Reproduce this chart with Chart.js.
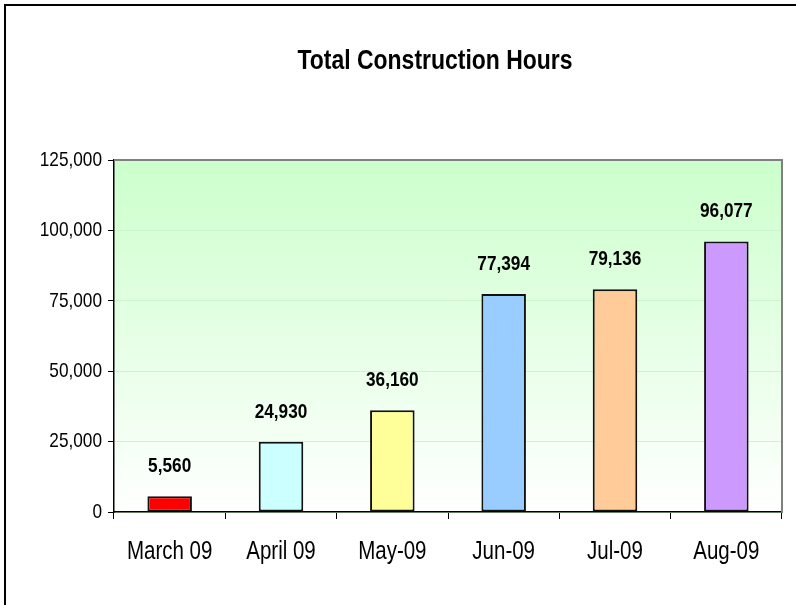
<!DOCTYPE html>
<html>
<head>
<meta charset="utf-8">
<script src="https://cdn.jsdelivr.net/npm/chart.js@4.4.1/dist/chart.umd.min.js"></script>
<style>
  html, body { margin: 0; padding: 0; background: #fff; }
  #wrap { position: relative; width: 796px; height: 605px; overflow: hidden; }
  #frame { position: absolute; left: 4px; top: 4px; width: 900px; height: 700px; border-left: 2px solid #000; border-top: 2px solid #000; box-sizing: border-box; }
  canvas { position: absolute; left: 0; top: 0; }
</style>
</head>
<body>
<div id="wrap">
  <div id="frame"></div>
  <canvas id="c" width="796" height="605"></canvas>
</div>
<script>
const categories = ["March 09", "April 09", "May-09", "Jun-09", "Jul-09", "Aug-09"];
const hours = [5560, 24930, 36160, 77394, 79136, 96077];
const barColors = ["#ff0000", "#ccffff", "#ffff99", "#99ccff", "#ffcc99", "#cc99ff"];
const chartTitle = "Total Construction Hours";
const yMax = 125000;
const yStep = 25000;

const FONT = "'Liberation Sans', Arial, sans-serif";
const NARROW = 0.82;

function narrowText(ctx, text, x, y, size, bold, align) {
  ctx.save();
  ctx.translate(x, y);
  ctx.scale(NARROW, 1);
  ctx.font = (bold ? "bold " : "") + size + "px " + FONT;
  ctx.fillStyle = '#000';
  ctx.textAlign = align;
  ctx.textBaseline = 'middle';
  ctx.fillText(text, 0, 0);
  ctx.restore();
}

const fmt = v => Number(v).toLocaleString('en-US');

const bgPlugin = {
  id: 'bgPlugin',
  beforeDraw(chart) {
    const { ctx, chartArea: a } = chart;
    const g = ctx.createLinearGradient(0, a.top, 0, a.bottom);
    g.addColorStop(0, '#ccffcc');
    g.addColorStop(1, '#ffffff');
    ctx.save();
    ctx.fillStyle = g;
    ctx.fillRect(a.left, a.top, a.right - a.left, a.bottom - a.top);
    ctx.restore();
  },
  afterDatasetsDraw(chart) {
    const { ctx } = chart;
    const meta = chart.getDatasetMeta(0);
    meta.data.forEach((bar, i) => {
      narrowText(ctx, fmt(hours[i]), bar.x, bar.y - 30, 21, true, 'center');
    });
  },
  afterDraw(chart) {
    const { ctx, chartArea: a, scales } = chart;
    ctx.save();
    ctx.strokeStyle = '#808080';
    ctx.lineWidth = 2;
    ctx.beginPath();
    ctx.moveTo(a.left, a.top);
    ctx.lineTo(a.right, a.top);
    ctx.lineTo(a.right, a.bottom);
    ctx.stroke();
    ctx.restore();
    // title
    narrowText(ctx, chartTitle, 435, 61, 28, true, 'center');
    // y tick labels
    scales.y.ticks.forEach(t => {
      narrowText(ctx, fmt(t.value), a.left - 12, scales.y.getPixelForValue(t.value), 21, false, 'right');
    });
    // x tick labels
    categories.forEach((c, i) => {
      narrowText(ctx, c, scales.x.getPixelForValue(i), a.bottom + 40, 25, false, 'center');
    });
  }
};

new Chart(document.getElementById('c'), {
  type: 'bar',
  data: {
    labels: categories,
    datasets: [{
      data: hours,
      backgroundColor: barColors,
      borderColor: '#111',
      borderWidth: 2,
      borderSkipped: false,
      barPercentage: 0.4,
      categoryPercentage: 1.0
    }]
  },
  options: {
    responsive: false,
    animation: false,
    devicePixelRatio: 1,
    layout: { padding: { left: 0, right: 14, top: 160, bottom: 0 } },
    plugins: { legend: { display: false }, title: { display: false }, tooltip: { enabled: false } },
    scales: {
      x: {
        afterFit(s) { s.height = 93; },
        grid: { offset: true, drawOnChartArea: false, tickLength: 7, tickColor: '#000', tickWidth: 1 },
        border: { color: '#000', width: 1.5 },
        ticks: { display: false }
      },
      y: {
        min: 0, max: yMax,
        afterFit(s) { s.width = 114; },
        grid: { color: '#ccf5cc', lineWidth: 1, tickLength: 6, tickColor: '#000' },
        border: { color: '#000', width: 1.5 },
        ticks: { stepSize: yStep, display: false }
      }
    }
  },
  plugins: [bgPlugin]
});
</script>
</body>
</html>
